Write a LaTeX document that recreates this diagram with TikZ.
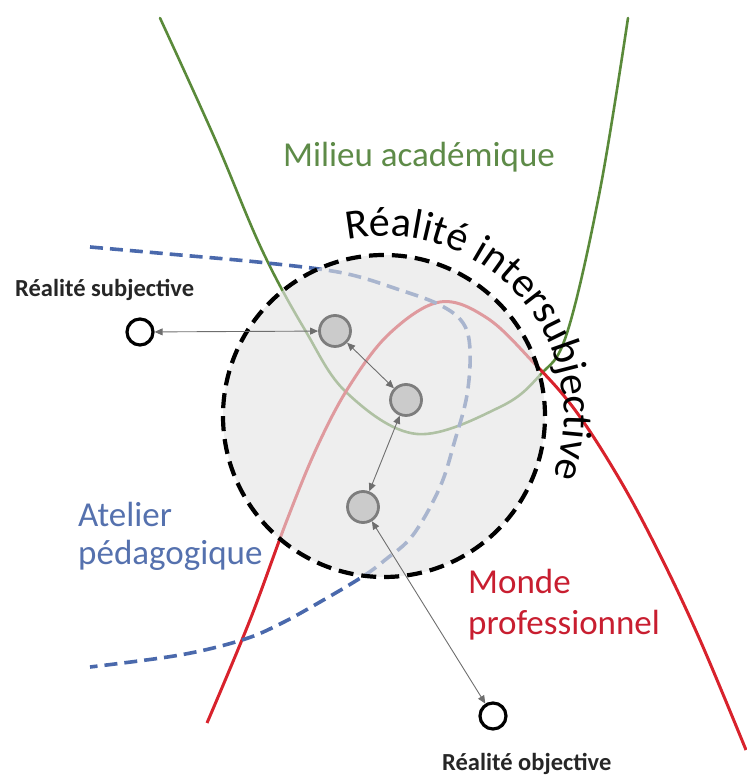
\documentclass[tikz,border=0pt]{standalone}
\usepackage{fontspec}
\setmainfont{Carlito}
\usetikzlibrary{arrows.meta,decorations.text}
\definecolor{ggreen}{HTML}{5A8A3A}
\definecolor{rred}{HTML}{D8222C}
\definecolor{bblue}{HTML}{4A69AC}
\definecolor{txtgreen}{HTML}{5E8B48}
\definecolor{txtblue}{HTML}{5571AE}
\definecolor{txtred}{HTML}{C81E30}
\definecolor{ringfill}{HTML}{E4E4E4}
\definecolor{conngray}{HTML}{6E6E6E}
\tikzset{
  opencirc/.style={circle, draw=black, fill=white, line width=3.2pt, minimum size=26pt, inner sep=0pt},
  graycirc/.style={circle, draw=conngray!90, fill=ringfill!75!gray, line width=2.8pt, minimum size=31pt, inner sep=0pt},
  conn/.style={draw=conngray, line width=0.9pt, {Triangle[length=8pt,width=7pt]}-{Triangle[length=8pt,width=7pt]}},
  biglabel/.style={font=\fontsize{35}{35}\selectfont, inner sep=0pt, anchor=base west},
  smalllabel/.style={font=\fontsize{24.5}{24.5}\selectfont\bfseries, inner sep=0pt, anchor=base west, text=black!85},
}
\begin{document}
\begin{tikzpicture}[x=1pt,y=1pt]
\useasboundingbox (0,0) rectangle (746,775);
% curves
\draw[ggreen, line width=2.6pt, line cap=round] plot[smooth, tension=0.6] coordinates {(160,757) (215,636) (262,525) (305,445) (347,382) (417,341) (500,368) (540,400) (567,442) (600,585) (628,757)};
\draw[rred, line width=3pt] plot[smooth, tension=0.6] coordinates {(207,52) (250,155) (287,255) (318,330) (350,390) (390,442) (440,473) (487,457) (533,413) (575,365) (620,295) (660,220) (700,135) (746,25)};
\draw[bblue, line width=3.6pt, dash pattern=on 13pt off 7pt] plot[smooth, tension=0.6] coordinates {(90,528) (180,520) (267,512) (343,502) (400,485) (440,470) (463,452) (470,425) (467,380) (455,335) (440,288) (413,240) (385,215) (362,198) (320,173) (280,151) (242,135) (180,120) (90,108)};
% big circle
\fill[ringfill, opacity=0.62] (384,359) circle[radius=161];
\draw[black, line width=4.2pt, dash pattern=on 15pt off 8pt] (384,359) circle[radius=161];
% curved text
\path[decorate, decoration={text along path, text align=center,
  text={|\fontsize{42}{42}\selectfont|Réalité intersubjective}}]
  ({384+180*cos(106)},{359+180*sin(106)}) arc[start angle=106, end angle=-24, radius=180];
% nodes
\node[opencirc] (subj) at (140,443) {};
\node[opencirc] (obj) at (493,59) {};
\node[graycirc] (g1) at (335,444) {};
\node[graycirc] (g2) at (406,375) {};
\node[graycirc] (g3) at (363,268) {};
\draw[conn] (g1) -- (subj);
\draw[conn] (g1) -- (g2);
\draw[conn] (g2) -- (g3);
\draw[conn] (g3) -- (obj);
% labels
\node[font=\fontsize{35}{35}\selectfont, text=txtgreen, inner sep=0pt, anchor=base] (milieu) at (419,608) {Milieu académique};
\node[biglabel, text=txtblue] (at1) at (78,248) {Atelier};
\node[biglabel, text=txtblue] (at2) at (78,210) {pédagogique};
\node[biglabel, text=txtred] (mp1) at (468,181) {Monde};
\node[biglabel, text=txtred] (mp2) at (468,140) {professionnel};
\node[smalllabel] (lsubj) at (15,478) {Réalité subjective};
\node[smalllabel] (lobj) at (442,5) {Réalité objective};
\end{tikzpicture}
\end{document}
